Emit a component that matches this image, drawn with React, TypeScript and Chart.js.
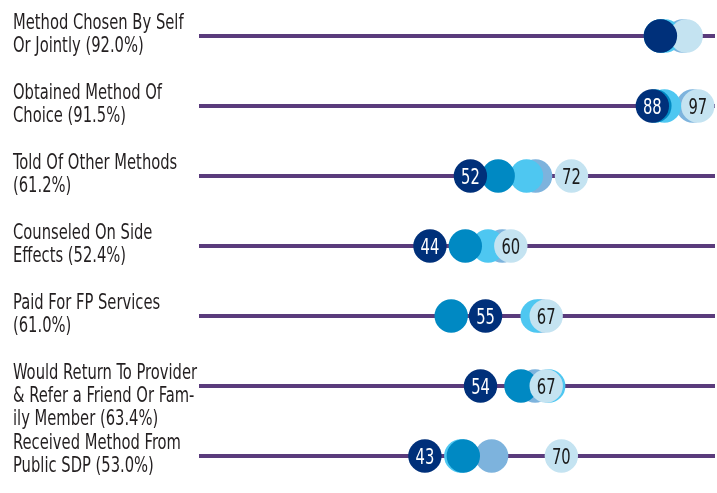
import React, { useEffect, useRef } from 'react';
import { Chart, registerables } from 'chart.js';

Chart.register(...registerables);

// Row labels (categories), top to bottom
const categories: string[][] = [
  ['Method Chosen By Self', 'Or Jointly (92.0%)'],
  ['Obtained Method Of', 'Choice (91.5%)'],
  ['Told Of Other Methods', '(61.2%)'],
  ['Counseled On Side', 'Effects (52.4%)'],
  ['Paid For FP Services', '(61.0%)'],
  ['Would Return To Provider', '& Refer a Friend Or Fam-', 'ily Member (63.4%)'],
  ['Received Method From', 'Public SDP (53.0%)'],
];

// Which rows show the numeric labels inside the navy and pale dots
const showValueLabels: boolean[] = [false, true, true, true, true, true, true];

// Series values (percent), one per row
const seriesNavy: number[] = [89.6, 88, 52, 44, 55, 54, 43];
const seriesPale: number[] = [94.7, 97, 72, 60, 67, 67, 70];
const seriesBlue: number[] = [89.6, 88.5, 57.5, 51.0, 48.2, 62.0, 50.6];
const seriesSky: number[] = [90.5, 90.4, 63.1, 55.5, 65.2, 67.5, 50.1];
const seriesSteel: number[] = [94, 96, 64.9, 58.3, 66, 64.8, 56.2];

const FONT = '"DejaVu Sans Condensed", "DejaVu Sans", sans-serif';
const TEXT_SCALE_X = 0.78;

const toPoints = (vals: number[]) => vals.map((v, i) => ({ x: v, y: i }));

function drawCondensed(ctx: CanvasRenderingContext2D, text: string, x: number, y: number) {
  ctx.save();
  ctx.translate(x, y);
  ctx.scale(TEXT_SCALE_X, 1);
  ctx.fillText(text, 0, 0);
  ctx.restore();
}

const rowLabelPlugin = {
  id: 'rowLabels',
  afterDraw(chart: any) {
    const ctx = chart.ctx;
    const ys = chart.scales.y;
    ctx.save();
    ctx.font = `21px ${FONT}`;
    ctx.fillStyle = '#231f20';
    ctx.textAlign = 'left';
    ctx.textBaseline = 'alphabetic';
    categories.forEach((lines, i) => {
      const py = ys.getPixelForValue(i);
      lines.forEach((t, j) => drawCondensed(ctx, t, ys.left, py - 7 + j * 23));
    });
    ctx.restore();
  },
};

const valueLabelPlugin = {
  id: 'valueLabels',
  afterDatasetsDraw(chart: any) {
    const ctx = chart.ctx;
    ctx.save();
    ctx.font = `21px ${FONT}`;
    ctx.textAlign = 'center';
    ctx.textBaseline = 'alphabetic';
    [0, 1].forEach((di) => {
      const meta = chart.getDatasetMeta(di);
      const ds = chart.data.datasets[di];
      ctx.fillStyle = di === 0 ? '#ffffff' : '#1a1a1a';
      meta.data.forEach((el: any, i: number) => {
        if (!showValueLabels[i]) return;
        const v = (ds.data[i] as any).x;
        drawCondensed(ctx, String(Math.round(v)), el.x, el.y + 7.5);
      });
    });
    ctx.restore();
  },
};

export default function App() {
  const ref = useRef<HTMLCanvasElement | null>(null);

  useEffect(() => {
    document.body.style.margin = '0';
    if (!ref.current) return;
    const radius = 16.7;
    const mk = (label: string, vals: number[], color: string) => ({
      label,
      data: toPoints(vals),
      backgroundColor: color,
      borderWidth: 0,
      pointRadius: radius,
      pointHoverRadius: radius,
    });
    const chart = new Chart(ref.current, {
      type: 'scatter',
      data: {
        datasets: [
          mk('Navy', seriesNavy, '#00307a'),
          mk('Pale', seriesPale, '#c4e3f1'),
          mk('Blue', seriesBlue, '#0089c3'),
          mk('Sky', seriesSky, '#4ec7f1'),
          mk('Steel', seriesSteel, '#7db3dd'),
        ],
      },
      options: {
        animation: false,
        responsive: false,
        layout: { autoPadding: false, padding: { left: 13, right: 2, top: 1, bottom: 2 } },
        plugins: { legend: { display: false }, tooltip: { enabled: false } },
        scales: {
          x: { type: 'linear', min: -1.7, max: 100.4, display: false },
          y: {
            type: 'linear',
            min: -0.5,
            max: 6.5,
            reverse: true,
            afterBuildTicks: (s: any) => {
              s.ticks = categories.map((_, i) => ({ value: i }));
            },
            afterFit: (s: any) => {
              s.width = 186;
            },
            ticks: { display: false },
            grid: { color: '#5a3b7c', lineWidth: 4, drawTicks: false },
            border: { display: false },
          },
        },
      } as any,
      plugins: [rowLabelPlugin, valueLabelPlugin],
    });
    return () => chart.destroy();
  }, []);

  return (
    <div style={{ width: 717, height: 493 }}>
      <canvas ref={ref} width={717} height={493} style={{ display: 'block' }} />
    </div>
  );
}
